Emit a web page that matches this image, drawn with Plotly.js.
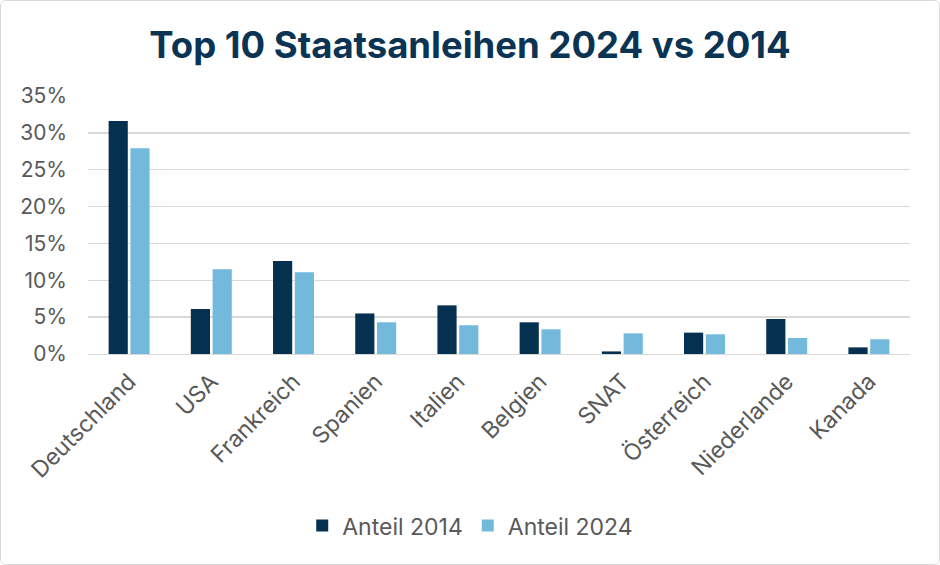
<!DOCTYPE html>
<html>
<head>
<meta charset="utf-8">
<script src="https://cdn.plot.ly/plotly-3.0.1.min.js"></script>
<style>
html,body{margin:0;padding:0;background:#fff;}
#wrap{position:absolute;left:0;top:0;width:938px;height:563px;border:1px solid #d9d9d9;border-radius:6px;overflow:hidden;}
#chart{width:938px;height:563px;}
</style>
</head>
<body>
<div id="wrap"><div id="chart"></div></div>
<script>
const categories = ["Deutschland","USA","Frankreich","Spanien","Italien","Belgien","SNAT","Österreich","Niederlande","Kanada"];
const anteil2014 = [0.316,0.061,0.126,0.055,0.066,0.043,0.0035,0.029,0.0475,0.009];
const anteil2024 = [0.279,0.115,0.111,0.043,0.039,0.0335,0.028,0.0267,0.0217,0.020];
const seriesNames = ["Anteil 2014","Anteil 2024"];

const traces = [
  {type:"bar", name:seriesNames[0], x:categories, y:anteil2014, marker:{color:"#05304F"}, hoverinfo:"none"},
  {type:"bar", name:seriesNames[1], x:categories, y:anteil2024, marker:{color:"#72B9DC"}, hoverinfo:"none"}
];

const layout = {
  width:938, height:563,
  paper_bgcolor:"#fff", plot_bgcolor:"#fff",
  font:{family:"Inter, 'Noto Sans', sans-serif", color:"#595959", size:21},
  title:{text:"<b>Top 10 Staatsanleihen 2024 vs 2014</b>", x:0.5, xanchor:"center", y:0.922, yanchor:"middle",
         font:{family:"Inter, sans-serif", size:36.5, color:"#0B3354"}},
  margin:{l:87, r:29, t:95, b:210},
  barmode:"group", bargap:0.47, bargroupgap:0.12,
  xaxis:{tickangle:-45, tickfont:{size:23, color:"#595959"}, showline:true, linecolor:"#d9d9d9", linewidth:1, ticks:"", automargin:false, ticklabelstandoff:4},
  yaxis:{range:[0,0.35], dtick:0.05, tickformat:".0%", showgrid:true, gridcolor:"#d9d9d9", gridwidth:1.3,
         zeroline:false, tickfont:{size:21, color:"#595959"}, ticks:"", ticklen:0, automargin:false, ticklabelstandoff:20},
  legend:{orientation:"h", x:0.465, xanchor:"center", y:-0.665, yanchor:"middle", font:{size:23, color:"#595959"}, traceorder:"normal", itemwidth:30},
  showlegend:true
};

Plotly.newPlot("chart", traces, layout, {displayModeBar:false, staticPlot:true});
</script>
</body>
</html>
